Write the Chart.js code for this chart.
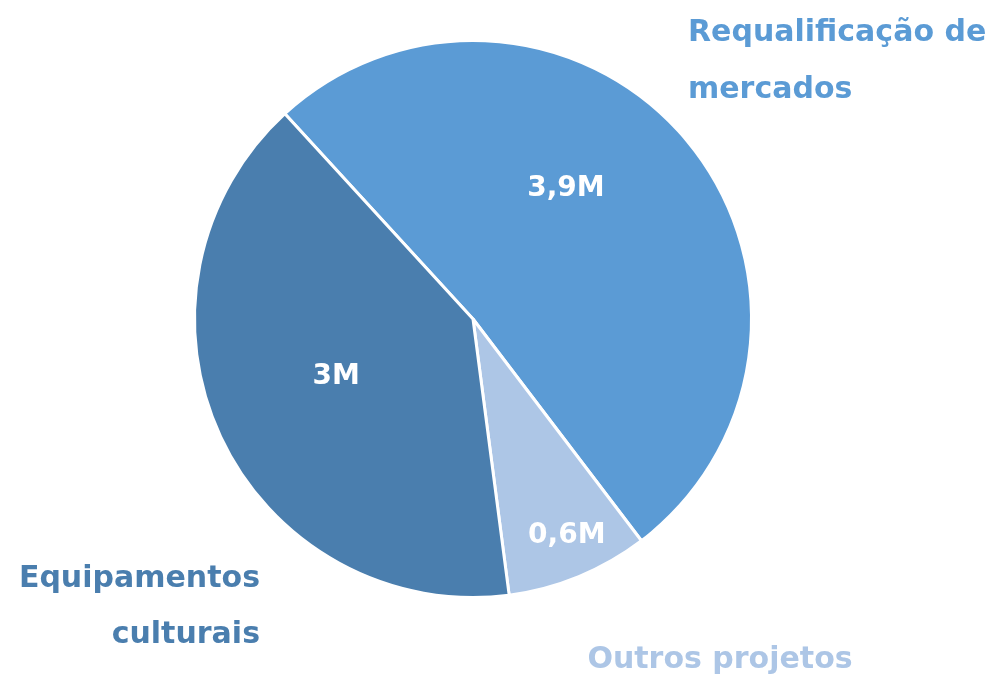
<!DOCTYPE html>
<html>
<head>
<meta charset="utf-8">
<script src="https://cdn.jsdelivr.net/npm/chart.js"></script>
<style>
  html, body { margin:0; padding:0; background:#fff; }
  #wrap { width:998px; height:675px; position:relative; }
</style>
</head>
<body>
<div id="wrap"><canvas id="pieChart"></canvas></div>
<script>
// categories and values (millions)
const categories = ["Requalificação de mercados", "Outros projetos", "Equipamentos culturais"];
const values = [3.86, 0.62, 3.02];
const valueLabels = ["3,9M", "0,6M", "3M"];
const colors = ["#5b9bd5", "#adc6e6", "#4a7eae"];

// outer captions (multi-line)
const captionLines = [["Requalificação de", "mercados"], ["Outros projetos"], ["Equipamentos", "culturais"]];

const VALUE_FONT = "bold 28px 'DejaVu Sans', sans-serif";
const CAPTION_FONT = "bold 30px 'DejaVu Sans', sans-serif";

const labelPlugin = {
  id: "sliceLabels",
  afterDatasetsDraw(chart) {
    const ctx = chart.ctx;
    const arcs = chart.getDatasetMeta(0).data;
    // radius factor + angle shift (deg) for the value labels
    const rf = [0.58, 0.84, 0.53];
    const shift = [-15, -1.3, 3];
    ctx.save();
    ctx.font = VALUE_FONT;
    ctx.fillStyle = "#fff";
    ctx.textAlign = "center";
    ctx.textBaseline = "middle";
    arcs.forEach((a, i) => {
      const p = a.getProps(["x", "y", "startAngle", "endAngle", "outerRadius"], true);
      const mid = (p.startAngle + p.endAngle) / 2 + shift[i] * Math.PI / 180;
      const r = p.outerRadius * rf[i];
      ctx.fillText(valueLabels[i], p.x + Math.cos(mid) * r, p.y + Math.sin(mid) * r + 2);
    });

    // outer captions
    ctx.font = CAPTION_FONT;
    ctx.textBaseline = "alphabetic";
    ctx.fillStyle = colors[0];
    ctx.textAlign = "left";
    ctx.fillText(captionLines[0][0], 688, 41);
    ctx.fillText(captionLines[0][1], 688, 98);
    ctx.fillStyle = colors[1];
    ctx.textAlign = "center";
    ctx.fillText(captionLines[1][0], 720, 668);
    ctx.fillStyle = colors[2];
    ctx.textAlign = "right";
    ctx.fillText(captionLines[2][0], 260, 587);
    ctx.fillText(captionLines[2][1], 260, 643);
    ctx.restore();
  }
};

new Chart(document.getElementById("pieChart"), {
  type: "pie",
  data: {
    labels: categories,
    datasets: [{
      data: values,
      backgroundColor: colors,
      borderColor: "#ffffff",
      borderWidth: 3
    }]
  },
  options: {
    responsive: true,
    maintainAspectRatio: false,
    animation: false,
    rotation: -42.5,
    layout: { padding: { left: 193, right: 245, top: 39, bottom: 76 } },
    plugins: {
      legend: { display: false },
      tooltip: { enabled: false }
    }
  },
  plugins: [labelPlugin]
});
</script>
</body>
</html>
